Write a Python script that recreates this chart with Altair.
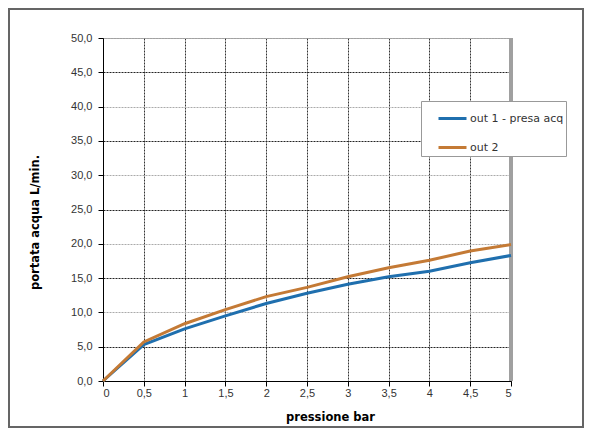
import altair as alt
import pandas as pd

pressure = [0, 0.5, 1, 1.5, 2, 2.5, 3, 3.5, 4, 4.5, 5]
out1 = [0, 5.3, 7.6, 9.5, 11.3, 12.8, 14.1, 15.2, 16.0, 17.25, 18.3]
out2 = [0, 5.7, 8.35, 10.4, 12.3, 13.65, 15.2, 16.5, 17.6, 18.95, 19.9]
series = ["out 1 - presa acq", "out 2"]
colors = ["#1f6fae", "#c47a35"]

df = pd.concat(
    [
        pd.DataFrame({"pressione": pressure, "portata": out1, "serie": series[0]}),
        pd.DataFrame({"pressione": pressure, "portata": out2, "serie": series[1]}),
    ]
)

label_font = "Liberation Sans"
title_font = "DejaVu Sans"

x_axis = alt.Axis(
    values=pressure,
    labelExpr="replace(toString(datum.value), '.', ',')",
    title="pressione bar",
    titleX=227,
    titleY=36,
    titleAlign="center",
    titleBaseline="middle",
    grid=True,
    gridColor="#333",
    gridDash=[2, 1],
    domainColor="#000",
    tickColor="#000",
    tickSize=5,
    labelPadding=1,
)

y_axis = alt.Axis(
    values=list(range(0, 51, 5)),
    labelExpr="replace(format(datum.value, '.1f'), '.', ',')",
    title="portata acqua  L/min.",
    titleX=-68,
    titleY=184,
    titleAlign="center",
    titleBaseline="middle",
    grid=True,
    gridColor={"condition": {"test": "datum.value % 10 == 5", "value": "#222"}, "value": "#aaa"},
    gridDash=[2, 1],
    domainColor="#000",
    tickColor="#000",
    tickSize=5,
    labelPadding=6,
)

lines = (
    alt.Chart(df)
    .mark_line(strokeWidth=3)
    .encode(
        x=alt.X("pressione:Q", scale=alt.Scale(domain=[0, 5], nice=False), axis=x_axis),
        y=alt.Y("portata:Q", scale=alt.Scale(domain=[0, 50], nice=False), axis=y_axis),
        color=alt.Color(
            "serie:N",
            scale=alt.Scale(domain=series, range=colors),
            legend=alt.Legend(
                title=None,
                orient="none",
                legendX=318,
                legendY=63,
                strokeColor="#999",
                padding=2,
                symbolOffset=14,
                symbolType="stroke",
                symbolSize=784,
                symbolStrokeWidth=3,
                rowPadding=7,
                labelFont=title_font,
                labelFontSize=11,
                labelColor="#333",
                labelOffset=2,
                fillColor="white",
            ),
        ),
    )
)

right_edge = (
    alt.Chart(df)
    .mark_rule(color="#a0a0a0", strokeWidth=3)
    .encode(x=alt.datum(5))
)

frame = (
    alt.Chart(df)
    .mark_rect(filled=False, stroke="#666", strokeWidth=1.5)
    .encode(x=alt.value(-94), x2=alt.value(480), y=alt.value(-29), y2=alt.value(389))
)

chart = (
    alt.layer(right_edge, lines, frame)
    .properties(
        width=408,
        height=343,
        autosize=alt.AutoSizeParams(type="none"),
        padding={"left": 95, "top": 30, "right": 73, "bottom": 47},
    )
    .configure_view(stroke="#999")
    .configure_axis(
        labelFont=label_font,
        labelFontSize=11,
        labelColor="#333",
        titleFont=title_font,
        titleFontSize=11.5,
        titleFontWeight="bold",
        titleColor="#000",
    )
)

chart.save("out.html", embed_options={"renderer": "svg", "actions": False})
